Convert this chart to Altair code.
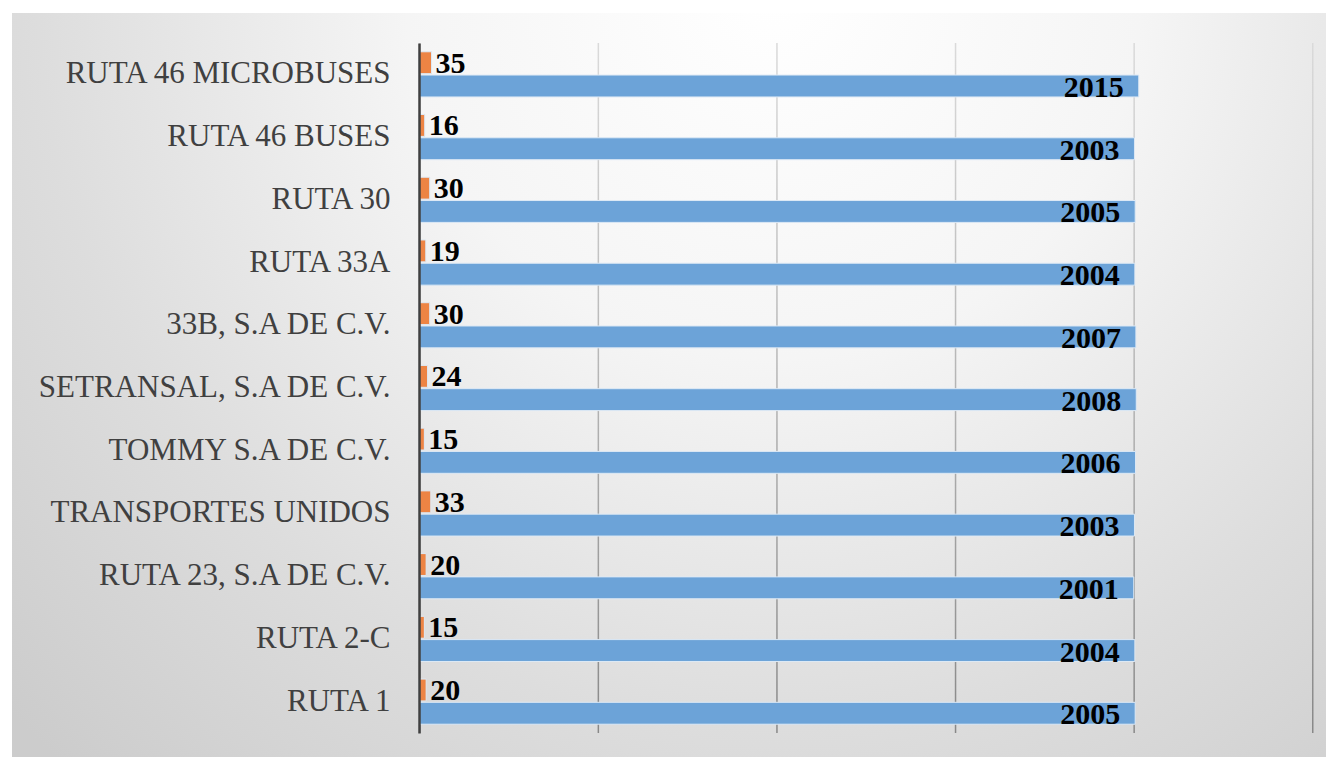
import altair as alt
import pandas as pd

rutas = ["RUTA 46 MICROBUSES", "RUTA 46 BUSES", "RUTA 30", "RUTA 33A",
         "33B, S.A DE C.V.", "SETRANSAL, S.A DE C.V.", "TOMMY S.A DE C.V.",
         "TRANSPORTES UNIDOS", "RUTA 23, S.A DE C.V.", "RUTA 2-C", "RUTA 1"]
unidades = [35, 16, 30, 19, 30, 24, 15, 33, 20, 15, 20]
anios = [2015, 2003, 2005, 2004, 2007, 2008, 2006, 2003, 2001, 2004, 2005]
x_ticks = [0, 500, 1000, 1500, 2000, 2500]
series = ["Unidades", "Año"]
colores = ["#ed8444", "#6ca3d8"]

rows = []
for r, u, a in zip(rutas, unidades, anios):
    rows.append({"ruta": r, "serie": series[0], "valor": u})
    rows.append({"ruta": r, "serie": series[1], "valor": a})
df = pd.DataFrame(rows)

W, H = 893, 690
FONT = "Liberation Serif"

xscale = alt.Scale(domain=[0, 2500], nice=False, zero=True)
yscale = alt.Scale(paddingInner=0.28, paddingOuter=0.14)
y_enc = alt.Y("ruta:N", sort=rutas, scale=yscale,
              axis=alt.Axis(title=None, ticks=False, labelFont=FONT, labelFontSize=31,
                            labelColor="#404040", labelPadding=29, labelLimit=420,
                            domainColor="#404040", domainWidth=2.5, grid=False, zindex=1))
yoff = alt.YOffset("serie:N", sort=series, scale=alt.Scale(paddingInner=0.06, paddingOuter=0))

bg_grad = {
    "gradient": "radial",
    "x1": 0.58, "y1": 0.2, "r1": 0,
    "x2": 0.58, "y2": 0.2, "r2": 0.8,
    "stops": [
        {"offset": 0, "color": "#ffffff"},
        {"offset": 0.35, "color": "#f5f5f5"},
        {"offset": 0.7, "color": "#dddddd"},
        {"offset": 1, "color": "#cccccc"},
    ],
}
background = alt.Chart(pd.DataFrame({"k": [0]})).mark_rect(fill=bg_grad).encode(
    x=alt.value(-407), x2=alt.value(907), y=alt.value(-30), y2=alt.value(714)
)

line_grad = {
    "gradient": "linear", "x1": 0, "y1": 0, "x2": 0, "y2": 1,
    "stops": [
        {"offset": 0, "color": "#dadada"},
        {"offset": 0.5, "color": "#b4b4b4"},
        {"offset": 1, "color": "#888888"},
    ],
}
grid = alt.Chart(pd.DataFrame({"t": x_ticks})).mark_rect(fill=line_grad, x2Offset=1.5).encode(
    x=alt.X("t:Q", scale=xscale, axis=None),
    x2=alt.X2("t"),
    y=alt.value(0), y2=alt.value(H),
)

base = alt.Chart(df)
bars = base.mark_bar(stroke="#dde9f5", strokeWidth=1).encode(
    x=alt.X("valor:Q", scale=xscale, axis=None),
    y=y_enc,
    yOffset=yoff,
    color=alt.Color("serie:N", scale=alt.Scale(domain=series, range=colores), legend=None),
)

txt_u = base.transform_filter(alt.datum.serie == series[0]).mark_text(
    align="left", baseline="alphabetic", dx=4, dy=10, font=FONT, fontSize=30,
    fontWeight="bold", color="#000000"
).encode(
    x=alt.X("valor:Q", scale=xscale, axis=None), y=y_enc, yOffset=yoff, text="valor:Q"
)
txt_a = base.transform_filter(alt.datum.serie == series[1]).mark_text(
    align="right", baseline="alphabetic", dx=-15, dy=11, font=FONT, fontSize=30,
    fontWeight="bold", color="#000000"
).encode(
    x=alt.X("valor:Q", scale=xscale, axis=None), y=y_enc, yOffset=yoff, text="valor:Q"
)

chart = alt.layer(background, grid, bars, txt_u, txt_a).properties(
    width=W, height=H,
    autosize=alt.AutoSizeParams(type="none"),
    padding={"left": 411, "top": 35, "right": 14, "bottom": 24},
    background="#ffffff",
).configure_view(stroke=None)

chart.save("out.html", embed_options={"renderer": "svg", "actions": False})
